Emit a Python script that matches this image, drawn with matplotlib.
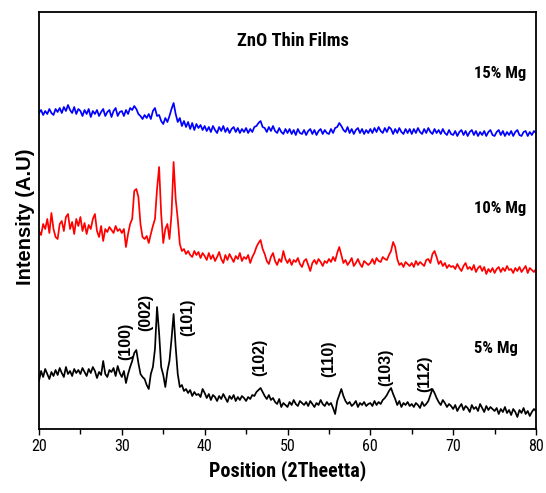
import numpy as np
import matplotlib
matplotlib.use("Agg")
import matplotlib.pyplot as plt

# 2-theta sampling positions (deg), 0.25 deg step from 20 to 80
two_theta = np.arange(20.0, 80.001, 0.25)

# Intensities (arbitrary units, offset stacked as in the figure)
mg15 = [
    316,319,314,318,315,320,316,314,320,317, 321,316,322,318,324,319,316,322,315,320,
    318,313,319,315,320,312,318,315,319,313, 317,320,313,317,319,312,318,321,313,317,
    318,313,319,315,321,319,323,320,315,313, 310,314,311,315,310,318,321,313,314,308,
    305,311,307,313,320,326,315,307,311,303, 308,302,307,300,306,299,305,301,304,299,
    303,298,302,297,303,299,296,302,298,303, 297,301,296,300,302,297,301,296,300,297,
    301,296,300,297,302,303,306,308,302,301, 297,302,298,303,298,296,301,297,295,300,
    296,300,295,299,294,300,296,295,299,294, 298,300,295,299,294,298,300,295,299,296,
    295,300,296,301,302,306,303,299,297,302, 296,300,295,299,301,296,300,295,299,296,
    300,296,301,297,302,298,296,301,297,302, 300,295,300,296,301,297,295,300,296,300,
    295,300,296,301,297,295,300,296,301,297, 295,300,296,299,295,300,296,294,299,295,
    294,298,293,297,299,294,298,293,297,299, 294,298,293,297,294,298,293,297,299,294,
    293,297,299,294,298,293,297,294,298,293, 297,299,294,293,297,298,293,297,294,298,296,
]

mg10 = [
    198,194,205,200,210,196,216,200,192,190, 205,208,198,212,215,200,207,195,210,203,
    212,198,206,195,204,200,210,215,198,192, 203,188,200,197,202,199,196,203,198,200,
    196,200,182,195,205,210,238,240,232,205, 192,190,193,186,195,203,210,240,262,215,
    186,200,205,190,215,267,230,210,185,178, 180,175,178,174,172,178,174,177,171,176,
    173,169,176,170,174,168,172,177,170,166, 174,169,175,171,167,173,170,176,168,172,
    170,174,166,172,176,182,186,189,180,175, 168,165,172,176,168,164,170,167,178,170,
    166,170,164,169,167,171,165,162,168,170, 164,158,166,169,165,170,167,163,168,166,
    170,167,172,168,176,182,174,166,169,164, 167,171,163,166,170,165,162,168,166,164,
    166,170,165,171,168,167,172,170,169,174, 178,187,182,170,164,166,162,167,165,163,
    166,162,168,164,167,165,163,169,170,166, 175,178,172,165,168,163,166,161,164,162,
    163,160,165,161,158,163,166,160,162,159, 164,157,161,163,158,162,155,160,157,161,
    156,160,162,157,161,158,163,159,160,156, 161,158,162,157,160,163,156,161,159,157,160,
]

mg5 = [
    48,58,52,60,55,50,57,53,59,54, 61,56,52,62,55,58,53,60,56,59,
    55,61,57,53,60,56,62,58,51,57, 54,68,55,52,59,57,61,53,63,56,
    52,58,46,55,62,68,76,79,66,55, 52,50,44,40,55,62,80,122,96,62,
    54,42,58,68,90,115,82,55,42,44, 38,40,36,39,33,37,34,35,32,40,
    36,31,35,29,34,32,28,33,30,35, 31,27,33,30,34,28,32,29,33,31,
    28,32,30,34,33,37,39,41,37,33, 30,34,29,31,27,25,30,22,26,24,
    22,27,24,29,25,23,28,26,24,27, 23,28,25,22,26,24,29,25,23,27,
    24,26,21,15,28,34,40,33,28,25, 27,23,25,28,22,26,24,27,23,25,
    26,23,28,24,27,25,29,31,34,38, 41,35,30,24,28,22,26,24,27,23,
    25,22,26,24,21,27,23,25,28,34, 40,36,31,27,24,29,26,22,25,23,
    20,24,18,22,25,19,23,21,17,24, 20,22,18,25,21,17,23,19,22,20,
    18,21,15,20,17,22,16,19,14,20, 17,12,19,16,21,15,18,13,17,20,18,
]

series_labels = ["15% Mg", "10% Mg", "5% Mg"]
series_colors = ["#0000ff", "#ff0000", "#000000"]
series_label_y = [356, 220, 81]

peak_labels = ["(100)", "(002)", "(101)", "(102)", "(110)", "(103)", "(112)"]
peak_x = [30.5, 32.9, 38.0, 46.6, 55.0, 61.9, 66.6]
peak_y = [88, 117, 112, 72, 70, 62, 55]

xticks = [20, 30, 40, 50, 60, 70, 80]

FONT = ["Liberation Sans", "DejaVu Sans"]
COND = ["Roboto Condensed", "Liberation Sans", "DejaVu Sans"]

fig = plt.figure(figsize=(5.46, 4.93), dpi=100)
ax = fig.add_axes([39 / 546, 1 - 429 / 493, (536 - 39) / 546, (429 - 12) / 493])

for ys, col in zip([mg15, mg10, mg5], series_colors):
    ax.plot(two_theta, ys, color=col, lw=1.25)

ax.set_xlim(20, 80)
ax.set_ylim(0, 417)
ax.set_yticks([])
ax.set_xticks(xticks)
ax.set_xticks(np.arange(25, 80, 10), minor=True)
ax.tick_params(axis="x", which="major", direction="out", length=4.5, width=1.0, pad=3)
ax.tick_params(axis="x", which="minor", direction="out", length=3.5, width=1.0)
for lab in ax.get_xticklabels():
    lab.set_fontfamily(COND)
    lab.set_fontsize(11.5)
for sp in ax.spines.values():
    sp.set_linewidth(1.3)

ax.set_xlabel("Position (2Theetta)", family=COND, fontsize=14.5, fontweight="bold",
              labelpad=4)
ax.set_ylabel("Intensity (A.U)", family=FONT, fontsize=14.5, fontweight="bold")
ax.yaxis.set_label_coords(-0.009, 0.51)

ax.text(50.7, 388, "ZnO Thin Films", family=COND, fontsize=13.3, fontweight="bold",
        ha="center", va="center")
for lab, y in zip(series_labels, series_label_y):
    ax.text(72.5, y, lab, family=COND, fontsize=12, fontweight="bold",
            ha="left", va="center")
for lab, x, y in zip(peak_labels, peak_x, peak_y):
    ax.text(x, y, lab, family=FONT, fontsize=11.5, fontweight="bold",
            rotation=90, ha="center", va="center")

fig.savefig("out.png", dpi=100)
